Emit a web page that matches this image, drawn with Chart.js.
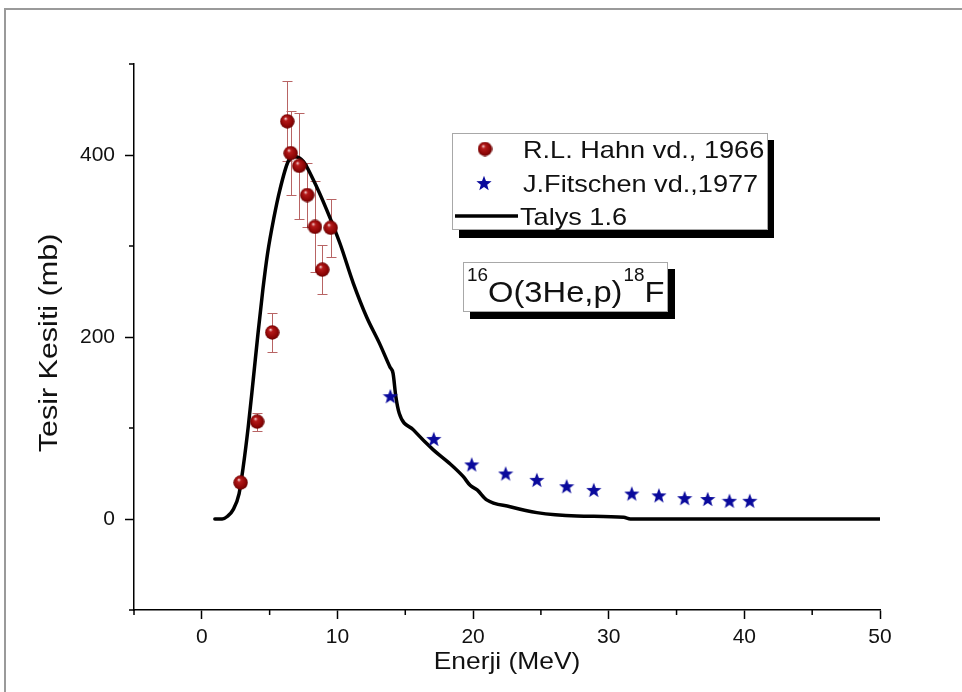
<!DOCTYPE html>
<html><head><meta charset="utf-8">
<script src="https://cdn.jsdelivr.net/npm/chart.js@4.4.0/dist/chart.umd.min.js"></script>
<style>html,body{margin:0;padding:0;background:#fff;}canvas{display:block;}</style>
</head><body>
<canvas id="c" width="962" height="692"></canvas>
<script>
// ---- data ----
const seriesLabels = ['R.L. Hahn vd., 1966', 'J.Fitschen vd.,1977', 'Talys 1.6'];
const hahnEnergy = [2.86, 4.08, 5.19, 6.3, 6.55, 7.18, 7.77, 8.34, 8.88, 9.5];
const hahnSigma  = [40, 107, 205, 437, 402, 388, 356, 321, 274, 320];
const hahnError  = [4, 10, 21, 44, 46, 58, 35, 50, 27, 32];
const fitschenEnergy = [13.9, 17.1, 19.9, 22.4, 24.7, 26.9, 28.9, 31.7, 33.7, 35.6, 37.3, 38.9, 40.4];
const fitschenSigma  = [135, 88, 60, 50, 43, 36, 32, 28, 26, 23, 22, 20, 20];
const talysEnergy = [0.96,1.5,1.9,2.3,2.75,3.05,3.42,3.79,4.15,4.5,4.85,5.3,5.76,6.37,6.86,7.48,8.21,9.2,10.18,11.17,12.15,13.1,13.87,14.1,14.3,14.56,15.6,17.07,18.2,19.28,19.78,20.3,21.0,22.73,24.7,27.65,31.1,31.6,40,50];
const talysSigma  = [0,0,3,10,28,57,101,153,205,252,292,330,362,393,398,393,373,340,303,259,222,193,167,160,135,116,98,76,62,46.5,37,32,21,13.5,7,3.3,1.8,0,0,0];
const xTickLabels = ['0', '10', '20', '30', '40', '50'];
const yTickLabels = ['0', '200', '400'];
const xTitle = 'Enerji (MeV)';
const yTitle = 'Tesir Kesiti (mb)';
const reaction = {pre: '16', a: 'O(3He,p)', mid: '18', b: 'F'};

const FONT = "'Liberation Sans', Arial, sans-serif";

function makeSphere(d) {
  const c = document.createElement('canvas'); c.width = c.height = d;
  const g = c.getContext('2d'); const r = d / 2;
  const grad = g.createRadialGradient(r * 0.75, r * 0.6, r * 0.05, r, r, r);
  grad.addColorStop(0, '#f4d0d0');
  grad.addColorStop(0.22, '#b51a1a');
  grad.addColorStop(0.75, '#8c0505');
  grad.addColorStop(1, '#5e0000');
  g.fillStyle = grad; g.beginPath(); g.arc(r, r, r - 0.3, 0, Math.PI * 2); g.fill();
  return c;
}
function makeStar(d, color) {
  const c = document.createElement('canvas'); c.width = c.height = d;
  const g = c.getContext('2d'); const r = d / 2, ri = r * 0.42;
  g.fillStyle = color; g.beginPath();
  for (let i = 0; i < 10; i++) {
    const a = -Math.PI / 2 + i * Math.PI / 5;
    const rr = i % 2 === 0 ? r : ri;
    const px = r + rr * Math.cos(a), py = r + 0.7 + rr * Math.sin(a);
    i === 0 ? g.moveTo(px, py) : g.lineTo(px, py);
  }
  g.closePath(); g.fill();
  return c;
}
const sphereImg = makeSphere(15);
const starImg = makeStar(16, '#0a0a9c');

function stretchedText(ctx, text, x, y, font, sx) {
  ctx.save(); ctx.font = font; ctx.translate(x, y); ctx.scale(sx, 1);
  ctx.fillText(text, 0, 0); const w = ctx.measureText(text).width * sx;
  ctx.restore(); return w;
}

const framePlugin = {
  id: 'frame',
  beforeDraw(chart) {
    const ctx = chart.ctx;
    ctx.save();
    ctx.fillStyle = '#fff'; ctx.fillRect(0, 0, chart.width, chart.height);
    ctx.strokeStyle = '#9a9a9a'; ctx.lineWidth = 2;
    ctx.beginPath(); ctx.moveTo(5, 692); ctx.lineTo(5, 9); ctx.lineTo(962, 9); ctx.stroke();
    ctx.restore();
  }
};

const errorBarPlugin = {
  id: 'errorBars',
  beforeDatasetsDraw(chart) {
    const ctx = chart.ctx, xs = chart.scales.x, ys = chart.scales.y;
    ctx.save();
    ctx.strokeStyle = '#b86464'; ctx.lineWidth = 1;
    hahnEnergy.forEach((e, i) => {
      const px = Math.round(xs.getPixelForValue(e)) + 0.5;
      const top = Math.round(ys.getPixelForValue(hahnSigma[i] + hahnError[i])) + 0.5;
      const bot = Math.round(ys.getPixelForValue(hahnSigma[i] - hahnError[i])) + 0.5;
      ctx.beginPath();
      ctx.moveTo(px, top); ctx.lineTo(px, bot);
      ctx.moveTo(px - 5, top); ctx.lineTo(px + 5, top);
      ctx.moveTo(px - 5, bot); ctx.lineTo(px + 5, bot);
      ctx.stroke();
    });
    ctx.restore();
  }
};

const minorTickPlugin = {
  id: 'minorTicks',
  afterDraw(chart) {
    const ctx = chart.ctx, xs = chart.scales.x, ys = chart.scales.y;
    ctx.save(); ctx.strokeStyle = '#000'; ctx.lineWidth = 1.5;
    ctx.beginPath();
    xs.ticks.forEach(t => {
      if (t.value % 10 !== 0) {
        const p = xs.getPixelForValue(t.value);
        ctx.moveTo(p, xs.top); ctx.lineTo(p, xs.top + 5);
      }
    });
    ys.ticks.forEach(t => {
      if (t.value % 200 !== 0) {
        const p = ys.getPixelForValue(t.value);
        ctx.moveTo(ys.right, p); ctx.lineTo(ys.right - 5, p);
      }
    });
    ctx.stroke(); ctx.restore();
  }
};

const titlesPlugin = {
  id: 'axisTitles',
  afterDraw(chart) {
    const ctx = chart.ctx, ca = chart.chartArea;
    ctx.save();
    ctx.fillStyle = '#111'; ctx.textBaseline = 'middle'; ctx.textAlign = 'center';
    ctx.save(); ctx.font = '24px ' + FONT; ctx.translate((ca.left + ca.right) / 2, 662); ctx.scale(1.1, 1);
    ctx.fillText(xTitle, 0, 0); ctx.restore();
    ctx.save(); ctx.font = '25px ' + FONT; ctx.translate(50, 343); ctx.rotate(-Math.PI / 2); ctx.scale(1.22, 1);
    ctx.fillText(yTitle, 0, 0); ctx.restore();
    ctx.restore();
  }
};

const boxesPlugin = {
  id: 'boxes',
  afterDraw(chart) {
    const ctx = chart.ctx;
    ctx.save();
    ctx.fillStyle = '#000'; ctx.fillRect(459, 140, 315, 98);
    ctx.fillStyle = '#fff'; ctx.fillRect(452, 133, 316, 97);
    ctx.strokeStyle = '#a8a8a8'; ctx.lineWidth = 1; ctx.strokeRect(452.5, 133.5, 315, 96);
    ctx.drawImage(sphereImg, 485 - 7.5, 149 - 7.5);
    ctx.drawImage(starImg, 484 - 8, 183 - 8);
    ctx.strokeStyle = '#000'; ctx.lineWidth = 3.5;
    ctx.beginPath(); ctx.moveTo(455, 216); ctx.lineTo(518, 216); ctx.stroke();
    ctx.fillStyle = '#111'; ctx.textBaseline = 'alphabetic';
    const lf = '24px ' + FONT;
    stretchedText(ctx, seriesLabels[0], 523, 158, lf, 1.13);
    stretchedText(ctx, seriesLabels[1], 523, 192, lf, 1.13);
    stretchedText(ctx, seriesLabels[2], 520, 225, lf, 1.13);
    ctx.fillStyle = '#000'; ctx.fillRect(470, 269, 205, 50);
    ctx.fillStyle = '#fff'; ctx.fillRect(463, 262, 205, 50);
    ctx.strokeStyle = '#a8a8a8'; ctx.lineWidth = 1; ctx.strokeRect(463.5, 262.5, 204, 49);
    ctx.fillStyle = '#111';
    let x = 467;
    x += stretchedText(ctx, reaction.pre, x, 281, '18px ' + FONT, 1.05);
    x += stretchedText(ctx, reaction.a, x, 302, '30px ' + FONT, 1.09);
    x += stretchedText(ctx, reaction.mid, x + 1, 281, '18px ' + FONT, 1.05) + 1;
    stretchedText(ctx, reaction.b, x, 302, '30px ' + FONT, 1.09);
    ctx.restore();
  }
};

const ctx = document.getElementById('c').getContext('2d');
new Chart(ctx, {
  type: 'scatter',
  data: {
    datasets: [
      {
        label: seriesLabels[0],
        data: hahnEnergy.map((e, i) => ({x: e, y: hahnSigma[i]})),
        pointStyle: sphereImg, pointRadius: 7.5, order: 1
      },
      {
        label: seriesLabels[1],
        data: fitschenEnergy.map((e, i) => ({x: e, y: fitschenSigma[i]})),
        pointStyle: starImg, pointRadius: 8, order: 2
      },
      {
        label: seriesLabels[2],
        data: talysEnergy.map((e, i) => ({x: e, y: talysSigma[i]})),
        showLine: true, pointRadius: 0, borderColor: '#000', borderWidth: 3.5,
        cubicInterpolationMode: 'monotone', borderJoinStyle: 'round', borderCapStyle: 'round', order: 3
      }
    ]
  },
  options: {
    responsive: false, animation: false, devicePixelRatio: 1,
    layout: {padding: {left: 0, right: 82, top: 64, bottom: 0}},
    plugins: {legend: {display: false}, tooltip: {enabled: false}},
    scales: {
      x: {
        type: 'linear', min: -5, max: 50,
        afterFit: s => { s.height = 82; },
        border: {display: true, color: '#000', width: 1.5},
        grid: {display: true, drawOnChartArea: false, drawTicks: true, tickLength: 9,
               tickWidth: 1.5,
               tickColor: c => (c.tick && c.tick.value % 10 === 0) ? '#000' : 'rgba(0,0,0,0)'},
        ticks: {stepSize: 5, autoSkip: false, maxRotation: 0, padding: 6, color: '#111',
                font: {family: FONT, size: 21},
                callback: v => xTickLabels.includes(String(v)) ? String(v) : ''},
        title: {display: false}
      },
      y: {
        type: 'linear', min: -100, max: 500,
        afterFit: s => { s.width = 134; },
        border: {display: true, color: '#000', width: 1.5},
        grid: {display: true, drawOnChartArea: false, drawTicks: true, tickLength: 9,
               tickWidth: 1.5,
               tickColor: c => (c.tick && c.tick.value % 200 === 0) ? '#000' : 'rgba(0,0,0,0)'},
        ticks: {stepSize: 100, autoSkip: false, padding: 10, color: '#111',
                font: {family: FONT, size: 21},
                callback: v => yTickLabels.includes(String(v)) ? String(v) : ''},
        title: {display: false}
      }
    }
  },
  plugins: [framePlugin, errorBarPlugin, minorTickPlugin, titlesPlugin, boxesPlugin]
});
</script>
</body></html>
